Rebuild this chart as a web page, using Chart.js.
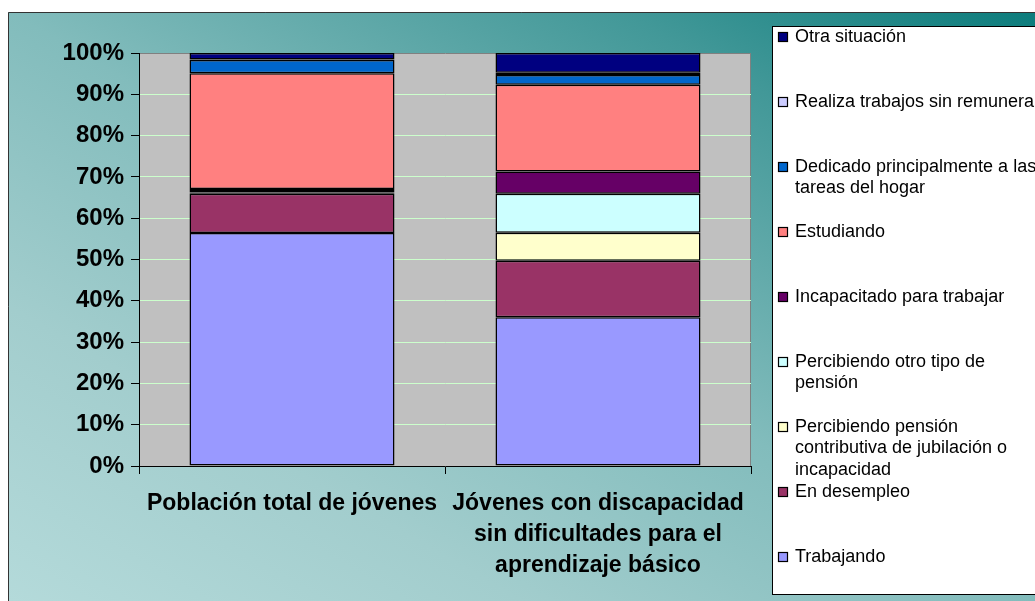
<!DOCTYPE html>
<html><head><meta charset="utf-8">
<script src="https://cdn.jsdelivr.net/npm/chart.js@4.4.1/dist/chart.umd.min.js"></script>
<style>html,body{margin:0;padding:0;background:#fff;overflow:hidden}canvas{display:block}</style>
</head><body>
<canvas id="c" width="1035" height="601"></canvas>
<script>
// ---- data ----
const categories = ["Población total de jóvenes", ["Jóvenes con discapacidad", "sin dificultades para el", "aprendizaje básico"]];
const seriesNames = [
  "Trabajando",
  "En desempleo",
  "Percibiendo pensión contributiva de jubilación o incapacidad",
  "Percibiendo otro tipo de pensión",
  "Incapacitado para trabajar",
  "Estudiando",
  "Dedicado principalmente a las tareas del hogar",
  "Realiza trabajos sin remunerar",
  "Otra situación"
];
const trabajando = [56.4, 36.0];
const enDesempleo = [9.5, 13.7];
const pensionContributiva = [0.3, 6.8];
const otroTipoPension = [0.4, 9.4];
const incapacitado = [0.5, 5.4];
const estudiando = [28.0, 21.0];
const tareasHogar = [3.2, 2.4];
const sinRemunerar = [0.1, 0.5];
const otraSituacion = [1.6, 4.8];
const yTickStep = 10;

// ---- styles ----
const seriesValues = [trabajando, enDesempleo, pensionContributiva, otroTipoPension, incapacitado, estudiando, tareasHogar, sinRemunerar, otraSituacion];
const seriesColors = ["#9999FF", "#993366", "#FFFFCC", "#CCFFFF", "#660066", "#FF8080", "#0066CC", "#CCCCFF", "#000080"];
const FONT = "'Liberation Sans', Arial, sans-serif";
Chart.defaults.font.family = FONT;

const bgPlugin = {
  id: 'bg',
  beforeDraw(chart) {
    const c = chart.ctx, W = chart.width, H = chart.height;
    c.save();
    c.fillStyle = '#fff';
    c.fillRect(0, 0, W, H);
    const g = c.createLinearGradient(1035, 12, 527, 898);
    g.addColorStop(0, 'rgb(12,124,124)');
    g.addColorStop(0.2, 'rgb(66,152,152)');
    g.addColorStop(0.5, 'rgb(130,188,188)');
    g.addColorStop(0.75, 'rgb(162,205,205)');
    g.addColorStop(1, 'rgb(180,218,218)');
    c.fillStyle = g;
    c.fillRect(8, 12, W - 8, H - 12);
    c.strokeStyle = '#333';
    c.lineWidth = 1;
    c.beginPath();
    c.moveTo(8.5, H); c.lineTo(8.5, 12.5); c.lineTo(W, 12.5);
    c.stroke();
    const a = chart.chartArea;
    c.fillStyle = '#C0C0C0';
    c.fillRect(a.left, a.top, a.right - a.left, a.bottom - a.top);
    c.strokeStyle = '#808080';
    c.beginPath();
    c.moveTo(a.right - 0.5, a.top); c.lineTo(a.right - 0.5, a.bottom);
    c.stroke();
    c.restore();
  }
};

function wrapText(c, text, maxW) {
  const words = text.split(' ');
  const lines = [];
  let cur = '';
  for (const w of words) {
    const t = cur ? cur + ' ' + w : w;
    if (cur && c.measureText(t).width > maxW) { lines.push(cur); cur = w; }
    else cur = t;
  }
  if (cur) lines.push(cur);
  return lines;
}

const legendPlugin = {
  id: 'customLegend',
  afterDraw(chart) {
    const c = chart.ctx;
    c.save();
    const bx = 772.5, by = 26.5, bw = 300, bh = 568;
    c.fillStyle = '#fff';
    c.fillRect(bx, by, bw, bh);
    c.strokeStyle = '#000';
    c.lineWidth = 1;
    c.strokeRect(bx, by, bw, bh);
    c.font = '18px ' + FONT;
    c.textBaseline = 'middle';
    c.textAlign = 'left';
    const ds = chart.data.datasets.slice().reverse();
    ds.forEach((d, i) => {
      const y0 = 37 + i * 65;
      c.fillStyle = d.backgroundColor;
      c.fillRect(778.5, y0 - 4.5, 9, 9);
      c.strokeStyle = '#000';
      c.lineWidth = 1.2;
      c.strokeRect(778.5, y0 - 4.5, 9, 9);
      c.fillStyle = '#000';
      const lines = wrapText(c, d.label, 250);
      lines.forEach((ln, k) => c.fillText(ln, 795, y0 + k * 21.5));
    });
    c.restore();
  }
};

new Chart(document.getElementById('c'), {
  type: 'bar',
  data: {
    labels: categories,
    datasets: seriesValues.map((vals, i) => ({
      label: seriesNames[i],
      data: vals,
      backgroundColor: seriesColors[i],
      borderColor: '#000',
      borderWidth: 1.5,
      borderSkipped: false,
      barPercentage: 0.67,
      categoryPercentage: 1
    }))
  },
  options: {
    responsive: false,
    animation: false,
    devicePixelRatio: 1,
    layout: { padding: { left: 0, right: 284, top: 53, bottom: 0 } },
    plugins: { legend: { display: false }, tooltip: { enabled: false } },
    scales: {
      x: {
        stacked: true,
        grid: { display: true, drawOnChartArea: false, drawTicks: true, tickLength: 8, tickColor: '#000', offset: true },
        border: { display: true, color: '#000', width: 1 },
        ticks: { color: '#000', font: { size: 23, weight: 'bold', lineHeight: 1.35 }, padding: 14, maxRotation: 0, autoSkip: false },
        afterFit(s) { s.height = 135; }
      },
      y: {
        stacked: true,
        min: 0,
        max: 100,
        ticks: { stepSize: yTickStep, callback: v => v + '%', color: '#000', font: { size: 24, weight: 'bold' }, padding: 7 },
        grid: { color: ctx => (ctx.tick && ctx.tick.value === 100) ? '#808080' : '#CCFFCC', tickColor: '#000', tickLength: 8, lineWidth: 1 },
        border: { color: '#000', width: 1 },
        afterFit(s) { s.width = 139; }
      }
    }
  },
  plugins: [bgPlugin, legendPlugin]
});
</script>
</body></html>
